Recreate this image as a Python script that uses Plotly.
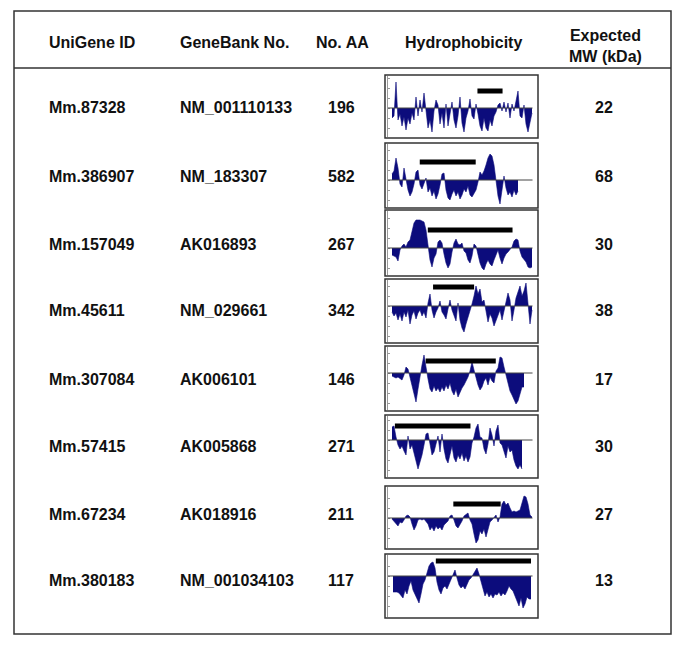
import numpy as np
import plotly.graph_objects as go

# ---------------- data ----------------
headers = ["UniGene ID", "GeneBank No.", "No. AA", "Hydrophobicity", "Expected<br>MW (kDa)"]
unigene_ids = ["Mm.87328", "Mm.386907", "Mm.157049", "Mm.45611",
               "Mm.307084", "Mm.57415", "Mm.67234", "Mm.380183"]
genebank_nos = ["NM_001110133", "NM_183307", "AK016893", "NM_029661",
                "AK006101", "AK005868", "AK018916", "NM_001034103"]
aa_counts = [196, 582, 267, 342, 146, 271, 211, 117]
mw_kda = [22, 68, 30, 38, 17, 30, 27, 13]
# highlighted region (residue numbers) shown by the black bar
bar_start = [120, 129, 69, 101, 38, 7, 93, 37]
bar_end = [155, 387, 230, 201, 115, 164, 164, 117]

# hydrophobicity profiles (evenly spaced along each sequence)
hyd_87328 = [-1.0, -0.8, 2.6, -1.2, -0.6, -1.8, -0.9, -2.2, -1.0, -1.6, -0.5, -1.2, 1.1, -0.8,
             0.8, -0.4, 1.5, -0.6, -2.0, -1.2, -2.4, -0.3, 0.8, 0.3, -1.6, -0.5, -2.0, 0.4,
             -1.8, -0.6, 0.6, -1.2, -2.0, -0.8, 1.1, -1.5, -2.4, -1.0, -0.3, 0.9, -0.8, -1.1,
             0.4, -0.6, -1.8, -2.3, -1.0, -2.0, -2.3, -1.2, -1.8, -0.8, -0.4, 0.3, 0.5, -0.3,
             0.6, -0.4, 0.5, -1.0, 0.4, -0.3, 0.8, 1.7, -0.8, -1.0, 0.3, -1.6, -2.4, -1.4, -0.5]
hyd_386907 = [0.6, 0.9, 2.2, 1.2, -0.4, -0.7, 1.2, 0.2, -1.0, -1.6, -1.2, -0.4, 0.8, 1.0,
              -0.5, -0.9, -0.4, 0.2, -1.2, -0.8, -1.6, -1.1, -1.9, -1.4, -0.5, 0.6, 0.7, -1.0,
              -1.8, -2.0, -1.4, -1.0, -1.6, -1.2, -1.9, -1.5, -0.9, -1.2, -0.6, -1.5, -1.7, -1.3,
              -1.0, -0.2, 0.8, 0.5, 0.9, 1.5, 2.2, 2.6, 2.4, 1.5, -0.2, -1.6, -2.4, -0.9,
              0.4, -0.8, -1.5, -1.2, -1.7, -1.0, -1.5, -1.1]
hyd_157049 = [-0.7, -0.8, -0.9, -1.3, -0.2, 0.2, 0.4, 0.1, 0.6, 0.8, 1.8, 2.5, 2.8, 2.8,
              2.8, 2.7, 2.6, 1.8, 0.2, -1.2, -1.9, -1.0, -0.6, 0.6, 0.8, 0.5, -0.6, -1.5,
              -2.0, -1.6, -0.4, 0.5, 0.9, 0.4, 0.3, 0.5, -0.3, -0.5, -1.2, -1.5, -0.8, 0.4,
              0.2, -0.8, -1.5, -2.0, -2.2, -1.6, -1.2, -1.6, -1.8, -1.2, -0.6, -0.2, -1.0, -1.6,
              -1.0, -0.6, -0.4, -0.2, 0.1, 0.7, 0.9, 0.8, -0.3, -0.9, -1.2, -1.4, -1.9, -2.0, -1.9]
hyd_45611 = [-0.6, -1.0, -0.7, -1.4, -0.8, -1.5, -0.6, -1.1, -0.4, -1.8, -0.9, -0.5, -1.3, -0.7,
             -0.4, -1.0, -0.6, -1.2, 0.3, 1.2, -0.4, -1.2, -0.6, -0.2, 0.5, -0.6, -0.9, -1.3,
             -0.3, 0.6, -0.4, -0.9, -1.5, 0.3, -1.4, -2.2, -2.6, -1.8, -1.2, -0.5, 0.2, 1.0,
             2.0, 1.2, 1.7, 0.4, 0.6, -0.5, -1.6, -0.8, -1.2, -2.0, -1.4, -0.9, -0.4, -1.4,
             -0.6, 0.5, 1.3, 0.6, -1.5, -0.4, 0.8, 1.4, 2.0, 1.0, 1.5, 2.3, 0.3, -1.8, -0.4]
hyd_307084 = [-0.3, -0.4, -0.5, -0.4, -0.6, -0.7, -0.2, 0.6, 0.4, -0.4, -1.2, -2.2, -2.9, -1.6,
              -0.3, 0.8, 1.8, 0.4, -0.6, -1.6, -1.9, -1.3, -1.8, -1.5, -1.9, -1.4, -1.8, -1.2,
              -1.6, -1.0, -1.8, -2.2, -1.6, -2.4, -1.9, -1.5, -1.2, -0.8, -0.4, 0.2, 1.1, 0.3,
              -0.6, -1.2, -1.7, -1.4, -0.8, -0.5, -1.2, -0.4, -0.8, -1.0, 0.2, 0.5, 1.6, 1.5,
              0.6, -0.3, -1.2, -1.8, -2.2, -2.6, -3.1, -2.8, -2.0, -1.4, -1.4]
hyd_57415 = [1.3, 1.4, 0.3, -0.5, -0.9, -0.6, -1.1, -1.5, 0.4, -0.9, -0.5, -1.3, -2.4, -2.9,
             -2.2, -1.5, -0.5, 0.6, 0.7, -0.6, -1.5, -1.2, -0.5, 0.4, -1.2, 0.6, -0.9, -1.9,
             -2.3, -1.4, -0.6, -1.8, -2.2, -1.5, -1.9, -1.3, -2.1, -1.6, -2.2, -1.7, -0.3, 0.3,
             1.2, 1.6, 0.3, 0.2, -0.9, -1.4, -0.4, 1.2, 0.5, -0.6, 0.9, 1.5, -0.3, -0.5,
             -1.3, -1.8, -0.6, -1.2, -1.0, -2.0, -2.6, -2.9, -2.5, -2.9]
hyd_67234 = [-0.1, -0.3, -0.6, -0.8, -0.4, -0.5, -0.2, 0.2, 0.3, 0.1, -0.6, -1.2, -0.8, -0.2,
             -0.1, -0.2, -0.1, -0.3, -0.6, -1.2, -0.9, -1.3, -0.8, -1.1, -0.9, -1.2, -0.7, -0.5,
             -0.3, 0.2, 0.3, -0.2, -0.8, -1.0, -0.7, -0.3, 0.2, 0.4, 0.5, -0.2, -0.6, -1.6,
             -2.5, -2.2, -1.3, -1.6, -1.1, -1.9, -1.2, -0.4, -0.2, 0.1, 0.3, -0.4, 0.1, 1.4,
             1.7, 1.3, 1.5, 1.0, 0.6, 0.7, 0.6, 0.7, 0.8, 1.5, 2.2, 2.1, 1.4, 0.3, 0.1]
hyd_380183 = [-1.6, -1.6, -1.6, -1.7, -1.9, -2.2, -1.4, -1.8, -1.0, -0.5, -1.4, -1.9, -2.2, -2.7,
              -1.8, -0.8, -0.4, 0.2, 1.0, 1.3, 1.4, 0.8, -0.6, -1.4, -1.8, -1.2, -1.0, -1.3,
              -0.8, -0.3, 0.2, 0.6, -0.2, -0.9, -1.2, -1.0, -1.3, -0.8, -0.4, -0.2, 0.1, 0.4,
              0.8, 0.2, -0.5, -1.4, -2.0, -1.6, -2.1, -1.8, -2.2, -1.8, -1.9, -1.6, -2.0, -1.7,
              -1.9, -1.5, -1.0, -1.3, -1.5, -2.0, -2.6, -3.0, -2.2, -3.2, -2.8, -2.1, -2.3, -2.3]
profiles = [hyd_87328, hyd_386907, hyd_157049, hyd_45611,
            hyd_307084, hyd_57415, hyd_67234, hyd_380183]

# ---------------- layout (pixels) ----------------
W, H = 685, 645
box_left, box_right = 385, 538
axis_left, axis_right = 388, 537
box_top = [75, 143, 210, 279, 346, 415, 486, 554]
box_bot = [138, 208, 276, 343, 411, 478, 549, 618]
zero_px = [108, 180, 248, 306, 373, 440, 518, 576]
data_l = [392, 392, 392, 392, 392, 392, 392, 393]
data_r = [532, 518, 532, 532, 524, 522, 532, 531]
bar_px = [91, 162, 230, 287, 361, 426, 504, 561]
text_y = [108, 176, 244, 311, 379, 446, 514, 580]
UNIT = 10.0  # pixels per hydrophobicity unit

def fx(p):
    return p / W

def fy(p):
    return 1 - p / H

FONT = dict(family="Liberation Sans, Arial, sans-serif", size=16, color="#111111")
NAVY = "#0c0c7c"

fig = go.Figure()
shapes = []
annotations = []

for i in range(8):
    n = aa_counts[i]
    sfx = "" if i == 0 else str(i + 1)
    xa, ya = "x" + sfx, "y" + sfx
    scale = (data_r[i] - data_l[i]) / (n - 1)
    x_lo = 1 - (data_l[i] - axis_left) / scale
    x_hi = 1 + (axis_right - data_l[i]) / scale
    top, bot = box_top[i] + 1, box_bot[i] - 1
    y_hi = (zero_px[i] - top) / UNIT
    y_lo = -(bot - zero_px[i]) / UNIT

    vals = profiles[i]
    xs = np.linspace(1, n, len(vals))
    fig.add_trace(go.Scatter(x=xs, y=vals, mode="lines", fill="tozeroy",
                             line=dict(color=NAVY, width=0.6), fillcolor=NAVY,
                             xaxis=xa, yaxis=ya, showlegend=False, hoverinfo="skip"))
    bar_y = (zero_px[i] - bar_px[i]) / UNIT
    fig.add_trace(go.Scatter(x=[bar_start[i], bar_end[i]], y=[bar_y, bar_y], mode="lines",
                             line=dict(color="black", width=5),
                             xaxis=xa, yaxis=ya, showlegend=False, hoverinfo="skip"))

    fig.layout["xaxis" + sfx] = dict(domain=[fx(axis_left), fx(axis_right)], range=[x_lo, x_hi],
                                     showgrid=False, zeroline=False, showticklabels=False,
                                     showline=False, anchor=ya, fixedrange=True)
    fig.layout["yaxis" + sfx] = dict(domain=[fy(bot), fy(top)], range=[y_lo, y_hi],
                                     showgrid=False, zeroline=False, showticklabels=False,
                                     showline=True, linecolor="#999999", linewidth=1,
                                     ticks="inside", ticklen=2, tickcolor="#999999", dtick=1,
                                     anchor=xa, fixedrange=True)
    # zero line
    shapes.append(dict(type="line", xref=xa + " domain", yref=ya, x0=0, x1=0.97, y0=0, y1=0,
                       line=dict(color="#444444", width=1)))
    # panel frame
    shapes.append(dict(type="rect", xref="paper", yref="paper",
                       x0=fx(box_left), x1=fx(box_right), y0=fy(box_bot[i]), y1=fy(box_top[i]),
                       line=dict(color="#333333", width=1.5)))

    ty = fy(text_y[i])
    annotations += [
        dict(x=fx(47), y=ty, text=f"<b>{unigene_ids[i]}</b>", xanchor="left"),
        dict(x=fx(178), y=ty, text=f"<b>{genebank_nos[i]}</b>", xanchor="left"),
        dict(x=fx(341), y=ty, text=f"<b>{aa_counts[i]}</b>", xanchor="center"),
        dict(x=fx(604), y=ty, text=f"<b>{mw_kda[i]}</b>", xanchor="center"),
    ]

# headers
hdr_x = [47, 178, 342, 463, 605]
hdr_anchor = ["left", "left", "center", "center", "center"]
hdr_y = [42, 42, 42, 42, 46]
for t, x, a, y in zip(headers, hdr_x, hdr_anchor, hdr_y):
    annotations.append(dict(x=fx(x), y=fy(y), text=f"<b>{t}</b>", xanchor=a))

for a in annotations:
    a.update(xref="paper", yref="paper", yanchor="middle", showarrow=False, font=FONT)

# outer frame and header rule
shapes.append(dict(type="rect", xref="paper", yref="paper", x0=fx(14), x1=fx(671),
                   y0=fy(634), y1=fy(11), line=dict(color="#333333", width=1.5)))
shapes.append(dict(type="line", xref="paper", yref="paper", x0=fx(14), x1=fx(671),
                   y0=fy(68), y1=fy(68), line=dict(color="#333333", width=1.5)))

fig.update_layout(width=W, height=H, margin=dict(l=0, r=0, t=0, b=0),
                  paper_bgcolor="white", plot_bgcolor="white",
                  shapes=shapes, annotations=annotations)

fig.write_html("out.html", config={"displayModeBar": False},
               post_script="document.body.style.margin='0px';")
